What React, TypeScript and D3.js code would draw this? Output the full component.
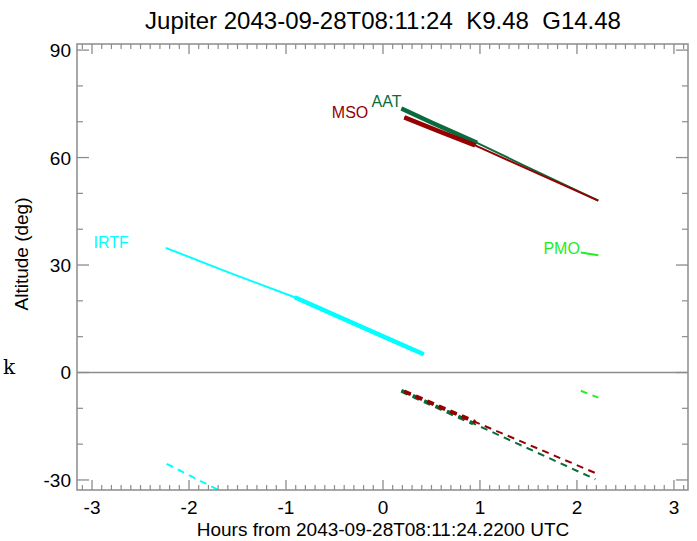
import React from "react";
import * as d3 from "d3";

const title = "Jupiter 2043-09-28T08:11:24  K9.48  G14.48";
const xTitle = "Hours from 2043-09-28T08:11:24.2200 UTC";
const yTitle = "Altitude (deg)";
const xTickValues = [-3, -2, -1, 0, 1, 2, 3];
const yTickValues = [90, 60, 30, 0, -30];

// AAT
const aatHours = [0.19, 0.5, 0.97, 1.5, 2.22];
const aatAlt = [73.7, 69.8, 64.1, 57.2, 48.0];
const aatThick = [0.19, 0.97];
const aatDashHours = [0.19, 0.93, 2.19];
const aatDashAlt = [-5.1, -14.2, -29.8];
// MSO
const msoHours = [0.22, 0.6, 0.95, 1.5, 2.22];
const msoAlt = [71.2, 67.1, 63.4, 56.7, 48.0];
const msoThick = [0.22, 0.95];
const msoDashHours = [0.22, 0.95, 2.22];
const msoDashAlt = [-5.3, -13.8, -28.4];
// IRTF
const irtfHours = [-2.24, -1.6, -0.91, 0.0, 0.42];
const irtfAlt = [34.8, 28.0, 21.0, 10.1, 5.1];
const irtfThick = [-0.91, 0.42];
const irtfDashHours = [-2.23, -1.5];
const irtfDashAlt = [-25.5, -35.5];
// PMO
const pmoHours = [2.04, 2.22];
const pmoAlt = [33.5, 32.7];
const pmoThick = [2.04, 2.04];
const pmoDashHours = [2.04, 2.22];
const pmoDashAlt = [-5.1, -7.0];

const labels = ["AAT", "MSO", "IRTF", "PMO"];

const series = [
  { name: labels[0], color: "#0a6b3c", h: aatHours, a: aatAlt, thick: aatThick, dh: aatDashHours, da: aatDashAlt, thickDashEnd: 0.93, dx: 0, dy: -1 },
  { name: labels[1], color: "#960000", h: msoHours, a: msoAlt, thick: msoThick, dh: msoDashHours, da: msoDashAlt, thickDashEnd: 0.95, dx: -36, dy: 1 },
  { name: labels[2], color: "#00ffff", h: irtfHours, a: irtfAlt, thick: irtfThick, dh: irtfDashHours, da: irtfDashAlt, thickDashEnd: -9, dx: -37, dy: 0 },
  { name: labels[3], color: "#22ee22", h: pmoHours, a: pmoAlt, thick: pmoThick, dh: pmoDashHours, da: pmoDashAlt, thickDashEnd: -9, dx: -1, dy: 2 },
];

const W = 697;
const H = 541;
const L = 77, R = 688, T = 44, B = 490;
const font = "'Liberation Sans', Arial, Helvetica, sans-serif";
const axisColor = "#8c8c8c";

export default function App() {
  const x = d3.scaleLinear().domain([-3.155, 3.145]).range([L, R]);
  const y = d3.scaleLinear().domain([-32.8, 91.7]).range([B, T]);
  const line = d3.line<[number, number]>().x((d) => x(d[0])).y((d) => y(d[1]));

  const xMinor = d3.range(-31, 32).map((v) => v / 10).filter((v) => Math.abs(v - Math.round(v)) > 1e-6);
  const yMinor = d3.range(-30, 91, 10).filter((v) => v % 30 !== 0);

  const interp = (hs: number[], as: number[], t: number) => {
    const f = d3.scaleLinear().domain(hs).range(as);
    return f(t);
  };
  const subset = (hs: number[], as: number[], lo: number, hi: number): [number, number][] => {
    const pts: [number, number][] = [[lo, interp(hs, as, lo)]];
    hs.forEach((h, i) => { if (h > lo && h < hi) pts.push([h, as[i]]); });
    pts.push([hi, interp(hs, as, hi)]);
    return pts;
  };

  return (
    <svg width={W} height={H} style={{ position: "absolute", left: 0, top: 0, background: "#fff" }} fontFamily={font}>
      <defs>
        <clipPath id="plotclip">
          <rect x={L} y={T} width={R - L} height={B - T} />
        </clipPath>
      </defs>
      <rect x={0} y={0} width={W} height={H} fill="#fff" />
      <text x={383} y={29} textAnchor="middle" fontSize={24} fill="#000" style={{ whiteSpace: "pre" }}>{title}</text>
      <text x={3} y={374} fontSize={20} fontFamily="'DejaVu Serif', 'Liberation Serif', serif" fill="#000">k</text>

      {/* zero line */}
      <line x1={L} x2={R} y1={y(0)} y2={y(0)} stroke={axisColor} strokeWidth={1.3} />

      <g clipPath="url(#plotclip)">
        {series.map((s) => {
          const pts = s.h.map((h, i) => [h, s.a[i]] as [number, number]);
          const dpts = s.dh.map((h, i) => [h, s.da[i]] as [number, number]);
          const thickPts = s.thick[1] > s.thick[0] ? subset(s.h, s.a, s.thick[0], s.thick[1]) : null;
          const dThick = s.thickDashEnd > s.dh[0] ? subset(s.dh, s.da, s.dh[0], s.thickDashEnd) : null;
          return (
            <g key={s.name}>
              <path d={line(pts) || ""} fill="none" stroke={s.color} strokeWidth={2} />
              {thickPts && <path d={line(thickPts) || ""} fill="none" stroke={s.color} strokeWidth={4.5} />}
              <path d={line(dpts) || ""} fill="none" stroke={s.color} strokeWidth={2} strokeDasharray="7,5.5" />
              {dThick && <path d={line(dThick) || ""} fill="none" stroke={s.color} strokeWidth={4} strokeDasharray="7,5.5" />}
            </g>
          );
        })}
      </g>
      {series.map((s) => (
        <text key={"l" + s.name} x={x(s.h[0]) + s.dx} y={y(s.a[0]) + s.dy} textAnchor="end" fontSize={16} fill={s.color}>{s.name}</text>
      ))}

      {/* frame */}
      <rect x={L} y={T} width={R - L} height={B - T} fill="none" stroke={axisColor} strokeWidth={1.5} />
      {/* x ticks */}
      {xTickValues.map((v) => (
        <g key={"xt" + v}>
          <line x1={x(v)} x2={x(v)} y1={B} y2={B - 10} stroke={axisColor} strokeWidth={1.3} />
          <line x1={x(v)} x2={x(v)} y1={T} y2={T + 10} stroke={axisColor} strokeWidth={1.3} />
          <text x={x(v)} y={514} textAnchor="middle" fontSize={19} fill="#000">{v}</text>
        </g>
      ))}
      {xMinor.map((v) => (
        <g key={"xm" + v}>
          <line x1={x(v)} x2={x(v)} y1={B} y2={B - 5} stroke={axisColor} strokeWidth={1.2} />
          <line x1={x(v)} x2={x(v)} y1={T} y2={T + 5} stroke={axisColor} strokeWidth={1.2} />
        </g>
      ))}
      {/* y ticks */}
      {yTickValues.map((v) => (
        <g key={"yt" + v}>
          <line x1={L} x2={L + 12} y1={y(v)} y2={y(v)} stroke={axisColor} strokeWidth={1.3} />
          <line x1={R} x2={R - 12} y1={y(v)} y2={y(v)} stroke={axisColor} strokeWidth={1.3} />
          <text x={71} y={y(v) + 7} textAnchor="end" fontSize={19} fill="#000">{v}</text>
        </g>
      ))}
      {yMinor.map((v) => (
        <g key={"ym" + v}>
          <line x1={L} x2={L + 6} y1={y(v)} y2={y(v)} stroke={axisColor} strokeWidth={1.2} />
          <line x1={R} x2={R - 6} y1={y(v)} y2={y(v)} stroke={axisColor} strokeWidth={1.2} />
        </g>
      ))}
      <text x={383} y={536} textAnchor="middle" fontSize={19} fill="#000">{xTitle}</text>
      <text transform={`translate(28, 254) rotate(-90)`} textAnchor="middle" fontSize={19} fill="#000">{yTitle}</text>
    </svg>
  );
}
